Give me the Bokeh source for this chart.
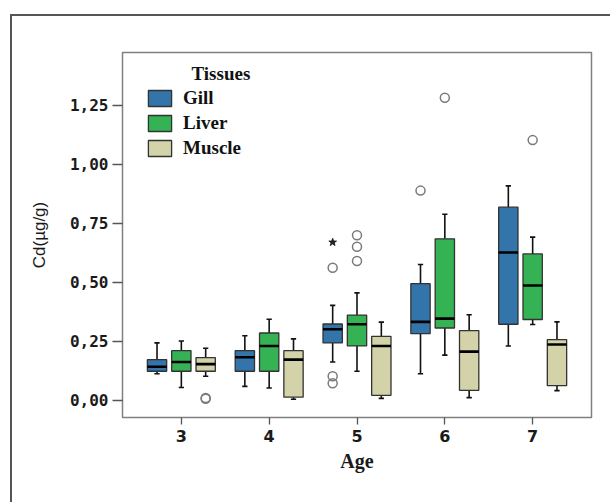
from bokeh.plotting import figure
from bokeh.models import (ColumnDataSource, Range1d, FixedTicker, Legend, LegendItem,
                          Label, InlineStyleSheet)
from bokeh.transform import dodge
from bokeh.embed import file_html
from bokeh.resources import INLINE

# ---------------- data ----------------
ages = [3, 4, 5, 6, 7]
tissues = ["Gill", "Liver", "Muscle"]
colors = ["#3375AA", "#35B254", "#D3D2A8"]
offsets = [-0.277, 0.0, 0.277]

gill_lo  = [0.112, 0.059, 0.162, 0.112, 0.230]
gill_q1  = [0.123, 0.123, 0.243, 0.282, 0.322]
gill_med = [0.142, 0.182, 0.301, 0.332, 0.626]
gill_q3  = [0.172, 0.210, 0.323, 0.494, 0.818]
gill_hi  = [0.243, 0.273, 0.402, 0.575, 0.908]

liver_lo  = [0.054, 0.052, 0.123, 0.191, 0.321]
liver_q1  = [0.123, 0.123, 0.230, 0.306, 0.342]
liver_med = [0.162, 0.230, 0.322, 0.346, 0.486]
liver_q3  = [0.210, 0.285, 0.361, 0.684, 0.620]
liver_hi  = [0.251, 0.343, 0.455, 0.788, 0.691]

muscle_lo  = [0.102, 0.004, 0.008, 0.011, 0.041]
muscle_q1  = [0.123, 0.013, 0.021, 0.042, 0.062]
muscle_med = [0.153, 0.172, 0.230, 0.206, 0.236]
muscle_q3  = [0.181, 0.210, 0.271, 0.295, 0.257]
muscle_hi  = [0.220, 0.260, 0.331, 0.362, 0.332]

# outliers (circles) and extremes (stars)
gill_out_age = [5, 5, 5, 6]
gill_out_val = [0.072, 0.102, 0.561, 0.888]
gill_ext_age = [5]
gill_ext_val = [0.669]
liver_out_age = [5, 5, 5, 6, 7]
liver_out_val = [0.590, 0.650, 0.699, 1.281, 1.102]
muscle_out_age = [3, 3]
muscle_out_val = [0.006, 0.010]

y_ticks = [0.0, 0.25, 0.5, 0.75, 1.0, 1.25]
y_tick_labels = ["0,00", "0,25", "0,50", "0,75", "1,00", "1,25"]

stats = {
    "Gill": (gill_lo, gill_q1, gill_med, gill_q3, gill_hi),
    "Liver": (liver_lo, liver_q1, liver_med, liver_q3, liver_hi),
    "Muscle": (muscle_lo, muscle_q1, muscle_med, muscle_q3, muscle_hi),
}
outliers = {
    "Gill": (gill_out_age, gill_out_val),
    "Liver": (liver_out_age, liver_out_val),
    "Muscle": (muscle_out_age, muscle_out_val),
}

# ---------------- figure ----------------
p = figure(width=610, height=502, output_backend="svg", toolbar_location=None,
           x_range=Range1d(2.33, 7.67), y_range=Range1d(-0.073, 1.473),
           min_border_left=122, min_border_right=19, min_border_top=52,
           min_border_bottom=85)
p.grid.visible = False
p.outline_line_color = "#808080"
p.outline_line_width = 1.5
p.background_fill_color = "white"
p.border_fill_color = "white"

# outer frame of the figure panel (only its left and top edges fall inside the window)
p.stylesheets = [InlineStyleSheet(css="""
:host { position: relative; }
:host::after {
  content: ""; position: absolute; left: 10px; top: 14px; right: 0px; bottom: 0px;
  border-left: 2px solid #555555; border-top: 2px solid #555555;
  pointer-events: none; box-sizing: border-box;
}
""")]

BOX_W = 0.22
CAP_W = 0.06
legend_items = []
for name, col, off in zip(tissues, colors, offsets):
    lo, q1, med, q3, hi = stats[name]
    src = ColumnDataSource(dict(age=ages, lo=lo, q1=q1, med=med, q3=q3, hi=hi))
    xc = dodge("age", off)
    p.segment(x0=xc, y0="lo", x1=xc, y1="q1", source=src, line_color="#111111", line_width=1.6)
    p.segment(x0=xc, y0="q3", x1=xc, y1="hi", source=src, line_color="#111111", line_width=1.6)
    p.segment(x0=dodge("age", off - CAP_W / 2), y0="lo", x1=dodge("age", off + CAP_W / 2), y1="lo",
              source=src, line_color="#111111", line_width=1.6)
    p.segment(x0=dodge("age", off - CAP_W / 2), y0="hi", x1=dodge("age", off + CAP_W / 2), y1="hi",
              source=src, line_color="#111111", line_width=1.6)
    r = p.vbar(x=xc, width=BOX_W, bottom="q1", top="q3", source=src,
               fill_color=col, line_color="#333333", line_width=1.3)
    p.segment(x0=dodge("age", off - BOX_W / 2), y0="med", x1=dodge("age", off + BOX_W / 2), y1="med",
              source=src, line_color="#000000", line_width=2.6)
    legend_items.append(LegendItem(label=name, renderers=[r]))
    oa, ov = outliers[name]
    osrc = ColumnDataSource(dict(age=oa, val=ov))
    p.scatter(x=dodge("age", off), y="val", source=osrc, marker="circle", size=9,
              fill_color=None, line_color="#7a7a7a", line_width=1.5)

esrc = ColumnDataSource(dict(age=gill_ext_age, val=gill_ext_val))
p.scatter(x=dodge("age", offsets[0]), y="val", source=esrc, marker="star", size=8,
          fill_color="#222222", line_color="#222222")

# ---------------- axes ----------------
p.yaxis.ticker = FixedTicker(ticks=y_ticks)
p.yaxis.major_label_overrides = {t: l for t, l in zip(y_ticks, y_tick_labels)}
p.xaxis.ticker = FixedTicker(ticks=ages)
for ax in (p.xaxis, p.yaxis):
    ax.axis_line_color = None
    ax.major_tick_line_color = "#555555"
    ax.major_tick_line_width = 1.3
    ax.minor_tick_line_color = None
    ax.major_tick_in = 0
    ax.major_label_text_color = "#1a1a1a"
p.yaxis.major_tick_out = 10
p.xaxis.major_tick_out = 7
p.yaxis.major_label_text_font = "DejaVu Sans Mono"
p.yaxis.major_label_text_font_style = "bold"
p.yaxis.major_label_text_font_size = "16px"
p.yaxis.major_label_standoff = 4
p.xaxis.major_label_text_font = "DejaVu Sans"
p.xaxis.major_label_text_font_style = "bold"
p.xaxis.major_label_text_font_size = "16px"
p.xaxis.major_label_standoff = 5

p.yaxis.axis_label = "Cd(µg/g)"
p.yaxis.axis_label_text_font = "Liberation Sans"
p.yaxis.axis_label_text_font_style = "normal"
p.yaxis.axis_label_text_font_size = "17px"
p.yaxis.axis_label_text_color = "#1a1a1a"
p.yaxis.axis_label_standoff = 18

p.xaxis.axis_label = "Age"
p.xaxis.axis_label_text_font = "Liberation Serif"
p.xaxis.axis_label_text_font_style = "bold"
p.xaxis.axis_label_text_font_size = "20px"
p.xaxis.axis_label_text_color = "#1a1a1a"
p.xaxis.axis_label_standoff = 5

# ---------------- legend ----------------
legend = Legend(items=legend_items, location=(23, 258), margin=0, padding=0,
                spacing=3, glyph_width=29, glyph_height=20, label_height=20,
                label_standoff=9, label_text_font="Liberation Serif",
                label_text_font_style="bold", label_text_font_size="19px",
                label_text_color="#111111", border_line_color=None,
                background_fill_alpha=0)
p.add_layout(legend)

p.add_layout(Label(x=69, y=344, x_units="screen", y_units="screen", text="Tissues",
                   text_font="Liberation Serif", text_font_style="bold",
                   text_font_size="19px", text_color="#111111", text_baseline="middle"))

open("out.html", "w").write(file_html(p, INLINE))
